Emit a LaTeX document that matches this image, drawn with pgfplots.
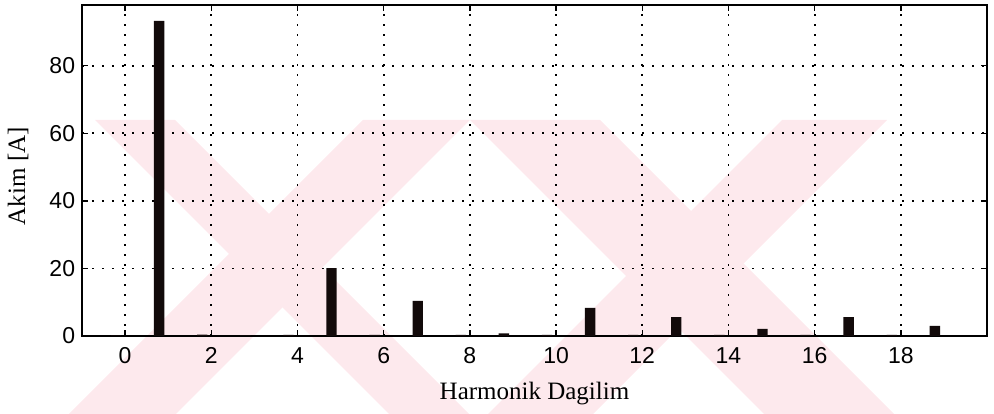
\documentclass[border=0pt]{standalone}
\usepackage{pgfplots}
\pgfplotsset{compat=1.18}
\usepackage{pgfplotstable}
\usepackage{fontspec}
\setmainfont{Liberation Serif}
\setsansfont{Liberation Sans}
\usetikzlibrary{backgrounds}
\definecolor{wmpink}{RGB}{253,233,237}
\definecolor{barblack}{RGB}{18,10,10}

% harmonic order (bars drawn slightly left of the integer), current in A
\pgfplotstableread{
x y
-0.21 0.2
0.79 93.3
1.79 0.4
2.79 0.2
3.79 0.3
4.79 20.1
5.79 0.3
6.79 10.4
7.79 0.3
8.79 0.8
9.79 0.3
10.79 8.3
11.79 0.3
12.79 5.6
13.79 0.3
14.79 2.1
15.79 0.3
16.79 5.6
17.79 0.3
18.79 3.0
}\harm

\begin{document}
\begin{tikzpicture}
\begin{axis}[
    name=ax,
    scale only axis,
    width=905pt, height=331pt,
    xmin=-1, xmax=20,
    ymin=0, ymax=98,
    xtick={0,2,...,18},
    ytick={0,20,...,80},
    ybar, bar width=0.24,
    grid=major,
    grid style={black, line width=1.8pt, dash pattern=on 1.8pt off 8.2pt},
    axis line style={line width=2pt},
    tick style={black, line width=1.4pt},
    major tick length=6pt,
    tick align=inside,
    tick label style={font=\sffamily\fontsize{23}{23}\selectfont},
    /pgf/number format/assume math mode=true,
    yticklabel style={xshift=-3.4pt},
    xticklabel style={yshift=-8.4pt},
    label style={font=\fontsize{25}{25}\selectfont},
    xlabel={Harmonik Dagilim},
    ylabel={Akim [A]},
    xlabel style={at={(axis description cs:0.5,-0.175)}, anchor=center},
    ylabel style={at={(axis description cs:-0.0707,0.483)}, anchor=center},
]
\addplot[fill=barblack, draw=none] table {\harm};
\end{axis}

% faint watermark behind the chart
\begin{scope}[on background layer, shift={(ax.south west)}, xshift=-82pt, yshift=336pt, x=1pt, y=-1pt]
\fill[wmpink] (95,120) -- (175,120) -- (469,414) -- (389,414) -- cycle;
\fill[wmpink] (363,120) -- (470,120) -- (176,414) -- (69,414) -- cycle;
\fill[wmpink] (470,120) -- (600,120) -- (894,414) -- (764,414) -- cycle;
\fill[wmpink] (782,120) -- (887,120) -- (593,414) -- (488,414) -- cycle;
\end{scope}

\begin{scope}[shift={(ax.south west)}, xshift=-82pt, yshift=336pt, x=1pt, y=-1pt]
\pgfresetboundingbox
\path (0,0) rectangle (994,414);
\end{scope}
\end{tikzpicture}
\end{document}
